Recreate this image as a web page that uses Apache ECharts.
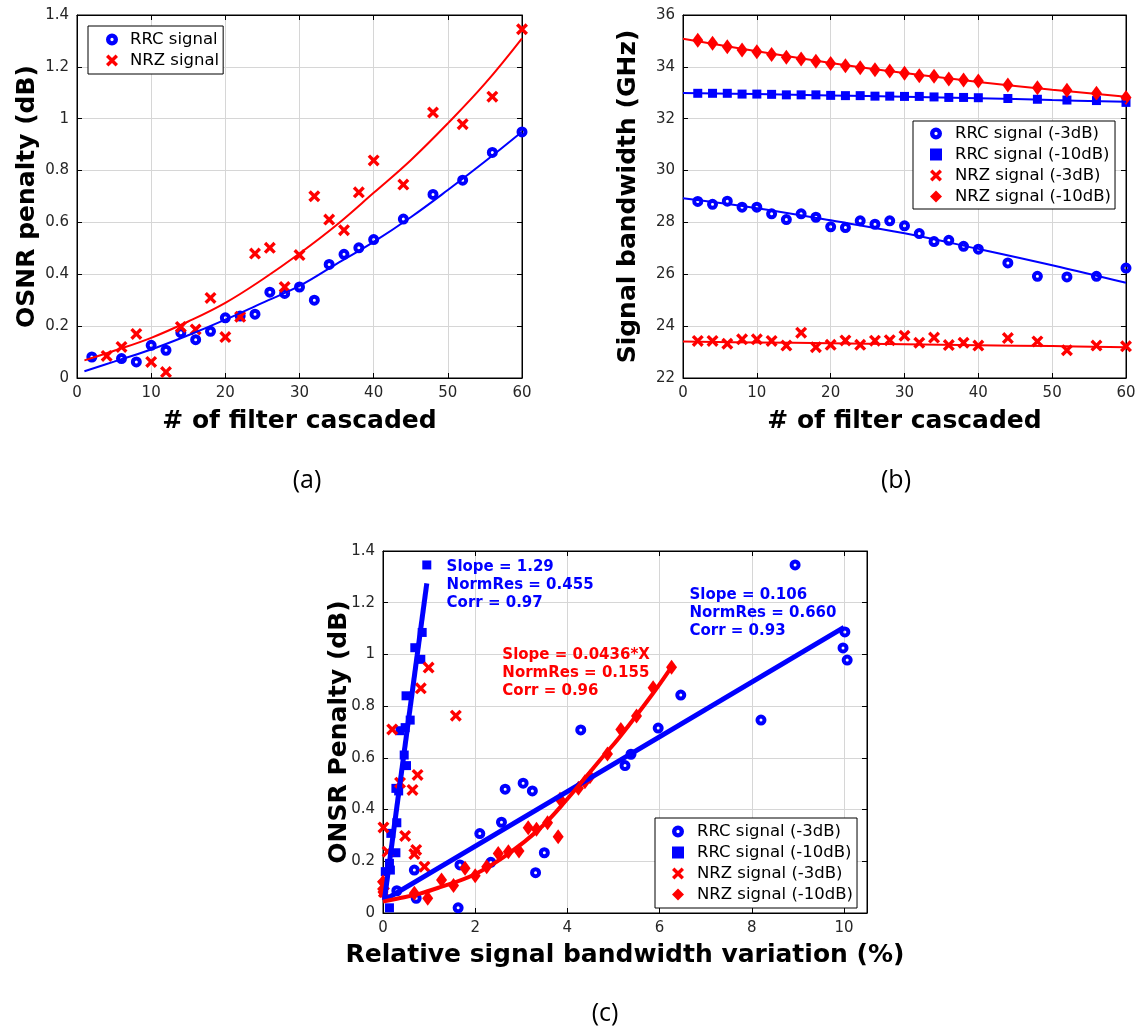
<!DOCTYPE html>
<html><head><meta charset="utf-8">
<script src="https://cdn.jsdelivr.net/npm/echarts@6/dist/echarts.min.js"></script>
<style>html,body{margin:0;padding:0;background:#fff}#c{width:1141px;height:1029px}</style>
</head><body><div id="c"></div>
<script>
// ---------- Panel (a): OSNR penalty vs # of filters ----------
const aRrcX = [2,6,8,10,12,14,16,18,20,22,24,26,28,30,32,34,36,38,40,44,48,52,56,60];
const aRrcY = [0.081,0.075,0.062,0.126,0.107,0.175,0.148,0.180,0.232,0.239,0.246,0.331,0.326,0.351,0.300,0.438,0.477,0.502,0.534,0.613,0.708,0.763,0.870,0.949];
const aNrzX = [4,6,8,10,12,14,16,18,20,22,24,26,28,30,32,34,36,38,40,44,48,52,56,60];
const aNrzY = [0.085,0.120,0.170,0.062,0.023,0.197,0.187,0.309,0.158,0.236,0.480,0.502,0.351,0.474,0.701,0.611,0.570,0.716,0.839,0.746,1.024,0.979,1.085,1.345];
const aFitX = [1,5,10,15,20,25,30,35,40,45,50,55,60];
const aRrcFit = [0.026,0.063,0.110,0.165,0.225,0.290,0.355,0.440,0.525,0.620,0.725,0.835,0.950];
const aNrzFit = [0.068,0.105,0.155,0.218,0.290,0.380,0.480,0.590,0.714,0.840,0.982,1.135,1.310];

// ---------- Panel (b): signal bandwidth vs # of filters ----------
const bX = [2,4,6,8,10,12,14,16,18,20,22,24,26,28,30,32,34,36,38,40,44,48,52,56,60];
const bRrc3 = [28.81,28.70,28.82,28.59,28.59,28.33,28.11,28.33,28.20,27.83,27.80,28.06,27.93,28.06,27.87,27.57,27.26,27.31,27.08,26.97,26.44,25.92,25.90,25.92,26.24];
const bRrc10 = [32.98,32.98,32.98,32.95,32.95,32.94,32.92,32.92,32.92,32.90,32.89,32.89,32.87,32.87,32.86,32.86,32.84,32.82,32.82,32.81,32.78,32.75,32.72,32.70,32.63];
const bNrz3 = [23.43,23.43,23.32,23.49,23.49,23.43,23.25,23.75,23.19,23.28,23.45,23.28,23.44,23.46,23.63,23.36,23.56,23.27,23.36,23.25,23.54,23.41,23.07,23.25,23.22];
const bNrz10 = [35.03,34.91,34.78,34.65,34.58,34.48,34.37,34.30,34.22,34.13,34.04,33.97,33.89,33.84,33.75,33.66,33.64,33.53,33.49,33.45,33.30,33.19,33.10,32.98,32.82];
const bFitX = [0,10,20,30,40,50,60];
const bRrc3Fit = [28.93,28.55,28.08,27.58,26.98,26.35,25.67];
const bRrc10Fit = [32.99,32.95,32.90,32.85,32.79,32.72,32.65];
const bNrz3Fit = [23.41,23.37,23.34,23.30,23.26,23.23,23.19];
const bNrz10Fit = [35.08,34.60,34.15,33.76,33.42,33.12,32.85];

// ---------- Panel (c): OSNR penalty vs relative bandwidth variation ----------
const cRrc3X = [8.94,10.02,9.98,10.07,8.20,6.46,5.97,4.29,5.38,5.25,3.04,3.24,2.65,2.57,2.10,3.50,3.31,2.34,1.67,1.63,0.68,0.30,0.72];
const cRrc3Y = [1.346,1.087,1.025,0.978,0.746,0.843,0.715,0.708,0.614,0.570,0.502,0.472,0.479,0.351,0.307,0.233,0.156,0.196,0.186,0.020,0.166,0.086,0.057];
const cRrc10X = [0.95,0.85,0.69,0.82,0.50,0.59,0.48,0.37,0.46,0.51,0.28,0.34,0.30,0.17,0.28,0.14,0.16,0.05,0.14];
const cRrc10Y = [1.346,1.085,1.026,0.981,0.840,0.746,0.717,0.705,0.611,0.570,0.482,0.472,0.349,0.308,0.233,0.192,0.166,0.160,0.020];
const cNrz3X = [0.99,0.82,1.58,0.20,0.75,0.37,0.64,0.01,0.48,0.72,0.68,0.10,0.90,0.00,0.02];
const cNrz3Y = [0.949,0.869,0.763,0.710,0.534,0.504,0.476,0.331,0.298,0.244,0.228,0.237,0.179,0.107,0.081];
const cNrz10X = [6.26,5.86,5.50,5.16,4.87,4.49,4.38,4.24,3.84,3.57,3.33,3.15,3.80,2.95,2.72,2.50,2.25,2.00,1.78,1.53,1.27,0.97,0.68,0.00,0.00];
const cNrz10Y = [0.950,0.871,0.762,0.710,0.615,0.527,0.508,0.482,0.440,0.349,0.324,0.330,0.295,0.240,0.237,0.230,0.179,0.144,0.173,0.106,0.128,0.057,0.076,0.081,0.120];
const cSteepFitX = [0.03,0.95];
const cSteepFitY = [0.05,1.275];
const cShallowFitX = [0.03,10.0];
const cShallowFitY = [0.05,1.105];
const cRedFitX = [0,0.3,0.8,1.24,1.96,2.68,3.41,3.98,4.71,5.14,5.86,6.26];
const cRedFitY = [0.044,0.055,0.075,0.10,0.147,0.224,0.328,0.437,0.592,0.682,0.85,0.952];

const FONT = 'DejaVu Sans';
const BLUE = '#0000ff', RED = '#ff0000';
const XPATH = 'path://M0,2 L2,0 L5,3 L8,0 L10,2 L7,5 L10,8 L8,10 L5,7 L2,10 L0,8 L3,5 Z';
const RING = 'path://M0,5.5 A5.5,5.5 0 1,1 11,5.5 A5.5,5.5 0 1,1 0,5.5 Z M4,5.5 A1.5,1.5 0 1,0 7,5.5 A1.5,1.5 0 1,0 4,5.5 Z';
const zip = (xs, ys) => xs.map((x, k) => [x, ys[k]]);

const grids = [
  {left: 77, top: 15, width: 445, height: 363},
  {left: 683, top: 15, width: 443, height: 363},
  {left: 383, top: 551, width: 484, height: 362}
].map(g => Object.assign({show: true, borderColor: '#000', borderWidth: 1, backgroundColor: 'transparent'}, g));

const tickLabel = {fontFamily: FONT, fontSize: 15, color: '#262626'};
const titleStyle = {fontFamily: FONT, fontSize: 25, fontWeight: 'bold', color: '#000'};
const axLine = {show: true, onZero: false, lineStyle: {color: '#000', width: 1}};
const axTick = {show: true, inside: true, length: 5, lineStyle: {color: '#000', width: 1}};
const split = {show: true, lineStyle: {color: '#d6d6d6', width: 1}};

function mainX(gi, min, max, interval, name, gap, extra) {
  return Object.assign({gridIndex: gi, type: 'value', position: 'bottom', min, max, interval,
    axisLine: axLine, axisTick: axTick, splitLine: split,
    axisLabel: Object.assign({margin: 8}, tickLabel),
    name, nameLocation: 'middle', nameGap: gap, nameMoveOverlap: false, nameTextStyle: titleStyle}, extra || {});
}
function mainY(gi, min, max, interval, name, gap) {
  return {gridIndex: gi, type: 'value', position: 'left', min, max, interval,
    axisLine: axLine, axisTick: axTick, splitLine: split,
    axisLabel: Object.assign({margin: 8}, tickLabel),
    name, nameLocation: 'middle', nameGap: gap, nameMoveOverlap: false, nameTextStyle: titleStyle};
}
function secX(gi, min, max, interval) {
  return {gridIndex: gi, type: 'value', position: 'top', min, max, interval,
    axisLine: axLine, axisTick: axTick, splitLine: {show: false}, axisLabel: {show: false}};
}
function secY(gi, min, max, interval) {
  return {gridIndex: gi, type: 'value', position: 'right', min, max, interval,
    axisLine: axLine, axisTick: axTick, splitLine: {show: false}, axisLabel: {show: false}};
}

const xAxis = [
  mainX(0, 0, 60, 10, '# of filter cascaded', 31),
  mainX(1, 0, 60, 10, '# of filter cascaded', 31),
  mainX(2, 0, 10.5, 2, 'Relative signal bandwidth variation (%)', 30, {axisLabel: Object.assign({margin: 8, showMaxLabel: false}, tickLabel)}),
  secX(0, 0, 60, 10), secX(1, 0, 60, 10), secX(2, 0, 10.5, 2)
];
const yAxis = [
  mainY(0, 0, 1.4, 0.2, 'OSNR penalty (dB)', 37),
  mainY(1, 22, 36, 2, 'Signal bandwidth (GHz)', 42),
  mainY(2, 0, 1.4, 0.2, 'ONSR Penalty (dB)', 31),
  secY(0, 0, 1.4, 0.2), secY(1, 22, 36, 2), secY(2, 0, 1.4, 0.2)
];

const circ = () => ({type: 'scatter', symbol: RING, symbolSize: 11, itemStyle: {color: BLUE, opacity: 1}, z: 3});
const sq = () => ({type: 'scatter', symbol: 'rect', symbolSize: 9, itemStyle: {color: BLUE, opacity: 1}, z: 3});
const xs = () => ({type: 'scatter', symbol: XPATH, symbolSize: 12, itemStyle: {color: RED, opacity: 1}, z: 3});
const dia = () => ({type: 'scatter', symbol: 'diamond', symbolSize: [11, 15], itemStyle: {color: RED, opacity: 1}, z: 3});
const fit = (color, width, smooth) => ({type: 'line', symbol: 'none', smooth: smooth ? 0.4 : false,
  lineStyle: {color, width}, itemStyle: {color}, z: 4, silent: true});

const series = [
  // (a)
  Object.assign(circ(), {name: 'a:RRC signal', xAxisIndex: 0, yAxisIndex: 0, data: zip(aRrcX, aRrcY)}),
  Object.assign(xs(), {name: 'a:NRZ signal', xAxisIndex: 0, yAxisIndex: 0, data: zip(aNrzX, aNrzY)}),
  Object.assign(fit(BLUE, 2, true), {name: 'a:fitRRC', xAxisIndex: 0, yAxisIndex: 0, data: zip(aFitX, aRrcFit)}),
  Object.assign(fit(RED, 2, true), {name: 'a:fitNRZ', xAxisIndex: 0, yAxisIndex: 0, data: zip(aFitX, aNrzFit)}),
  // (b)
  Object.assign(circ(), {name: 'b:RRC signal (-3dB)', xAxisIndex: 1, yAxisIndex: 1, data: zip(bX, bRrc3)}),
  Object.assign(sq(), {name: 'b:RRC signal (-10dB)', xAxisIndex: 1, yAxisIndex: 1, data: zip(bX, bRrc10)}),
  Object.assign(xs(), {name: 'b:NRZ signal (-3dB)', xAxisIndex: 1, yAxisIndex: 1, data: zip(bX, bNrz3)}),
  Object.assign(dia(), {name: 'b:NRZ signal (-10dB)', xAxisIndex: 1, yAxisIndex: 1, data: zip(bX, bNrz10)}),
  Object.assign(fit(BLUE, 2, true), {name: 'b:f1', xAxisIndex: 1, yAxisIndex: 1, data: zip(bFitX, bRrc3Fit)}),
  Object.assign(fit(BLUE, 2, true), {name: 'b:f2', xAxisIndex: 1, yAxisIndex: 1, data: zip(bFitX, bRrc10Fit)}),
  Object.assign(fit(RED, 2, true), {name: 'b:f3', xAxisIndex: 1, yAxisIndex: 1, data: zip(bFitX, bNrz3Fit)}),
  Object.assign(fit(RED, 2, true), {name: 'b:f4', xAxisIndex: 1, yAxisIndex: 1, data: zip(bFitX, bNrz10Fit)}),
  // (c)
  Object.assign(circ(), {name: 'c:RRC signal (-3dB)', xAxisIndex: 2, yAxisIndex: 2, data: zip(cRrc3X, cRrc3Y)}),
  Object.assign(sq(), {name: 'c:RRC signal (-10dB)', xAxisIndex: 2, yAxisIndex: 2, data: zip(cRrc10X, cRrc10Y)}),
  Object.assign(xs(), {name: 'c:NRZ signal (-3dB)', xAxisIndex: 2, yAxisIndex: 2, data: zip(cNrz3X, cNrz3Y)}),
  Object.assign(dia(), {name: 'c:NRZ signal (-10dB)', xAxisIndex: 2, yAxisIndex: 2, data: zip(cNrz10X, cNrz10Y)}),
  Object.assign(fit(BLUE, 5, false), {name: 'c:f1', xAxisIndex: 2, yAxisIndex: 2, data: zip(cSteepFitX, cSteepFitY)}),
  Object.assign(fit(BLUE, 5, false), {name: 'c:f2', xAxisIndex: 2, yAxisIndex: 2, data: zip(cShallowFitX, cShallowFitY)}),
  Object.assign(fit(RED, 4, true), {name: 'c:f3', xAxisIndex: 2, yAxisIndex: 2, data: zip(cRedFitX, cRedFitY)})
];

function annot(name, pos, lines, color) {
  return {type: 'scatter', name, xAxisIndex: 2, yAxisIndex: 2, symbolSize: 1, silent: true, z: 6,
    itemStyle: {color: 'transparent', opacity: 1}, data: [pos],
    label: {show: true, position: [0, 0], align: 'left', verticalAlign: 'top', opacity: 1,
      formatter: lines.join('\n'), fontFamily: FONT, fontSize: 15, fontWeight: 'bold', color, lineHeight: 18}};
}
series.push(annot('c:ann1', [1.39, 1.369], ['Slope = 1.29', 'NormRes = 0.455', 'Corr = 0.97'], BLUE));
series.push(annot('c:ann2', [2.60, 1.029], ['Slope = 0.0436*X', 'NormRes = 0.155', 'Corr = 0.96'], RED));
series.push(annot('c:ann3', [6.66, 1.264], ['Slope = 0.106', 'NormRes = 0.660', 'Corr = 0.93'], BLUE));

function legendCfg(left, top, pad, textPad, names) {
  return {orient: 'vertical', left, top, padding: pad, backgroundColor: '#fff', borderColor: '#000', borderWidth: 1,
    itemWidth: 12, itemHeight: 12, itemGap: 4, selectedMode: false,
    textStyle: {fontFamily: FONT, fontSize: 16.5, color: '#000',
      rich: {t: {fontFamily: FONT, fontSize: 16.5, color: '#000', lineHeight: 16, padding: [0, 0, 0, textPad]}}},
    formatter: n => '{t|' + n.replace(/^[abc]:/, '') + '}',
    data: names};
}
const legend = [
  legendCfg(88, 26, [5, 4, 5, 18], 7, ['a:RRC signal', 'a:NRZ signal']),
  legendCfg(913, 121, [4, 4, 4, 17], 8, ['b:RRC signal (-3dB)', 'b:RRC signal (-10dB)', 'b:NRZ signal (-3dB)', 'b:NRZ signal (-10dB)']),
  legendCfg(655, 818, [5, 4, 5, 17], 8, ['c:RRC signal (-3dB)', 'c:RRC signal (-10dB)', 'c:NRZ signal (-3dB)', 'c:NRZ signal (-10dB)'])
];

const subLabel = (t, x, y) => ({type: 'text', x, y, z: 10,
  style: {text: t, fontFamily: 'Open Sans', fontSize: 25, fill: '#000', align: 'center', verticalAlign: 'middle'}});

const chart = echarts.init(document.getElementById('c'), null, {renderer: 'canvas'});
chart.setOption({
  animation: false,
  backgroundColor: '#fff',
  grid: grids,
  xAxis, yAxis, series, legend,
  graphic: [subLabel('(a)', 307, 481), subLabel('(b)', 896, 481), subLabel('(c)', 605, 1014)]
});
</script></body></html>
